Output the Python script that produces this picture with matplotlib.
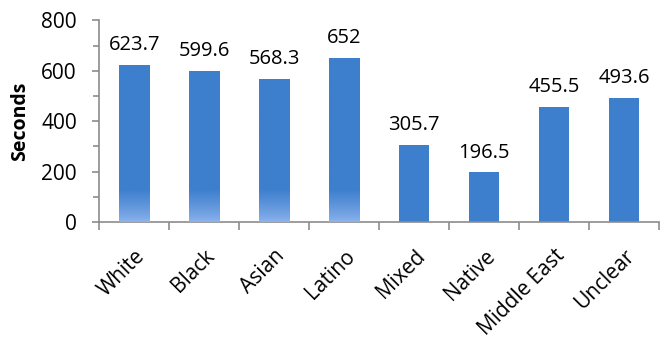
import matplotlib.pyplot as plt
import numpy as np
from matplotlib.colors import LinearSegmentedColormap
from matplotlib.ticker import MultipleLocator

groups = ["White", "Black", "Asian", "Latino", "Mixed", "Native", "Middle East", "Unclear"]
seconds = [623.7, 599.6, 568.3, 652, 305.7, 196.5, 455.5, 493.6]
value_labels = ["623.7", "599.6", "568.3", "652", "305.7", "196.5", "455.5", "493.6"]

# bars that fade to a lighter blue at the base in the original
faded = ["White", "Black", "Asian", "Latino"]

BAR = "#3d7fcd"
FADE = "#8eb4ee"
AXIS = "#8c8c8c"
FADE_HEIGHT = 130  # data units over which the base lightens

plt.rcParams["font.family"] = ["Open Sans", "DejaVu Sans"]

fig = plt.figure(figsize=(6.7, 3.5), dpi=100)
ax = fig.add_axes([0.148, 0.366, 0.836, 0.576])

x = np.arange(len(groups))
width = 0.43
bars = ax.bar(x, seconds, width=width, color=BAR, zorder=2)

# soft gradient at the bottom of the faded bars, clipped to the bar shape
cmap = LinearSegmentedColormap.from_list("fade", [FADE, BAR])
for i, (g, patch) in enumerate(zip(groups, bars)):
    if g in faded:
        h = seconds[i]
        ys = np.linspace(0, h, 400)
        grad = np.clip(ys / FADE_HEIGHT, 0, 1) ** 0.8
        im = ax.imshow(grad.reshape(-1, 1), cmap=cmap, origin="lower", aspect="auto",
                       interpolation="bilinear", vmin=0, vmax=1,
                       extent=[x[i] - width / 2, x[i] + width / 2, 0, h], zorder=3)
        im.set_clip_path(patch)

for xi, v, lab in zip(x, seconds, value_labels):
    ax.text(xi, v + 58, lab, ha="center", va="baseline", fontsize=14.5)

ax.set_xlim(-0.5, len(groups) - 0.5)
ax.set_ylim(0, 800)
ax.yaxis.set_major_locator(MultipleLocator(200))
ax.yaxis.set_minor_locator(MultipleLocator(100))
ax.set_xticks(x)
ax.set_xticklabels(groups, rotation=45, ha="right", rotation_mode="anchor", fontsize=15)
ax.set_xticks(np.arange(len(groups) + 1) - 0.5, minor=True)
ax.tick_params(axis="x", which="major", length=0, pad=17)
ax.tick_params(axis="x", which="minor", length=5.5, width=1.2, color=AXIS, direction="out")
ax.tick_params(axis="y", which="major", length=5, width=1.2, color=AXIS, labelsize=15, pad=11)
ax.tick_params(axis="y", which="minor", length=4, width=1.2, color=AXIS)
ax.set_ylabel("Seconds", fontweight="bold", fontsize=14, labelpad=8)

for side in ("top", "right"):
    ax.spines[side].set_visible(False)
for side in ("left", "bottom"):
    ax.spines[side].set_color(AXIS)
    ax.spines[side].set_linewidth(1.2)

fig.savefig("out.png", dpi=100)
